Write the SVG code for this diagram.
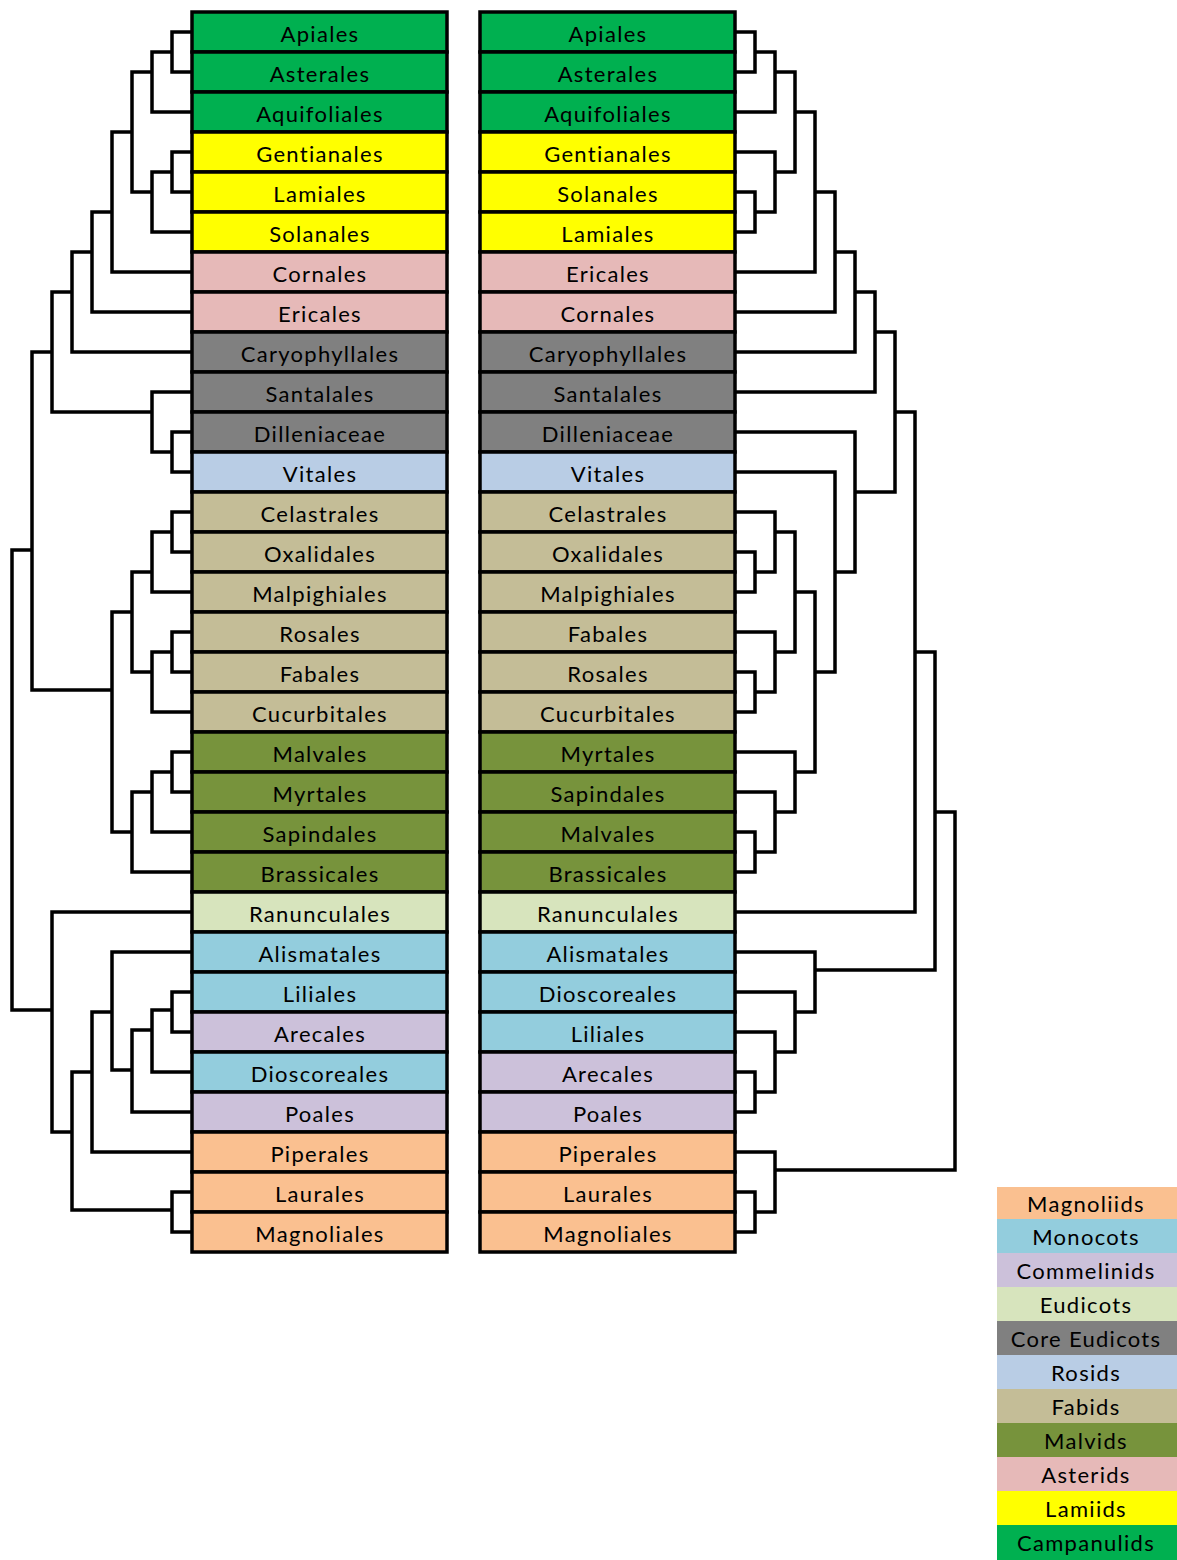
<svg xmlns="http://www.w3.org/2000/svg" width="1177" height="1560" viewBox="0 0 1177 1560">
<style>
.box{stroke:#000;stroke-width:3.5}
.t{font-family:Lato,"Liberation Sans",sans-serif;font-size:22px;letter-spacing:1.3px;text-anchor:middle;fill:#000}
.lg{font-family:Lato,"Liberation Sans",sans-serif;font-size:22px;letter-spacing:1.3px;text-anchor:middle;fill:#000}
.cam{fill:#00B050}.lam{fill:#FFFF00}.ast{fill:#E6B9B8}.core{fill:#808080}.ros{fill:#B9CDE5}
.fab{fill:#C4BD97}.mal{fill:#77933C}.eud{fill:#D7E4BD}.mon{fill:#93CDDD}.com{fill:#CCC1DA}.mag{fill:#FAC090}
#connectors path{fill:none;stroke:#000;stroke-width:3.5;stroke-linejoin:miter}
</style>
<g id="left-column">
<g id="L-Apiales"><rect class="box cam" x="192" y="12" width="255" height="40"/><text class="t" x="320" y="42">Apiales</text></g>
<g id="L-Asterales"><rect class="box cam" x="192" y="52" width="255" height="40"/><text class="t" x="320" y="82">Asterales</text></g>
<g id="L-Aquifoliales"><rect class="box cam" x="192" y="92" width="255" height="40"/><text class="t" x="320" y="122">Aquifoliales</text></g>
<g id="L-Gentianales"><rect class="box lam" x="192" y="132" width="255" height="40"/><text class="t" x="320" y="162">Gentianales</text></g>
<g id="L-Lamiales"><rect class="box lam" x="192" y="172" width="255" height="40"/><text class="t" x="320" y="202">Lamiales</text></g>
<g id="L-Solanales"><rect class="box lam" x="192" y="212" width="255" height="40"/><text class="t" x="320" y="242">Solanales</text></g>
<g id="L-Cornales"><rect class="box ast" x="192" y="252" width="255" height="40"/><text class="t" x="320" y="282">Cornales</text></g>
<g id="L-Ericales"><rect class="box ast" x="192" y="292" width="255" height="40"/><text class="t" x="320" y="322">Ericales</text></g>
<g id="L-Caryophyllales"><rect class="box core" x="192" y="332" width="255" height="40"/><text class="t" x="320" y="362">Caryophyllales</text></g>
<g id="L-Santalales"><rect class="box core" x="192" y="372" width="255" height="40"/><text class="t" x="320" y="402">Santalales</text></g>
<g id="L-Dilleniaceae"><rect class="box core" x="192" y="412" width="255" height="40"/><text class="t" x="320" y="442">Dilleniaceae</text></g>
<g id="L-Vitales"><rect class="box ros" x="192" y="452" width="255" height="40"/><text class="t" x="320" y="482">Vitales</text></g>
<g id="L-Celastrales"><rect class="box fab" x="192" y="492" width="255" height="40"/><text class="t" x="320" y="522">Celastrales</text></g>
<g id="L-Oxalidales"><rect class="box fab" x="192" y="532" width="255" height="40"/><text class="t" x="320" y="562">Oxalidales</text></g>
<g id="L-Malpighiales"><rect class="box fab" x="192" y="572" width="255" height="40"/><text class="t" x="320" y="602">Malpighiales</text></g>
<g id="L-Rosales"><rect class="box fab" x="192" y="612" width="255" height="40"/><text class="t" x="320" y="642">Rosales</text></g>
<g id="L-Fabales"><rect class="box fab" x="192" y="652" width="255" height="40"/><text class="t" x="320" y="682">Fabales</text></g>
<g id="L-Cucurbitales"><rect class="box fab" x="192" y="692" width="255" height="40"/><text class="t" x="320" y="722">Cucurbitales</text></g>
<g id="L-Malvales"><rect class="box mal" x="192" y="732" width="255" height="40"/><text class="t" x="320" y="762">Malvales</text></g>
<g id="L-Myrtales"><rect class="box mal" x="192" y="772" width="255" height="40"/><text class="t" x="320" y="802">Myrtales</text></g>
<g id="L-Sapindales"><rect class="box mal" x="192" y="812" width="255" height="40"/><text class="t" x="320" y="842">Sapindales</text></g>
<g id="L-Brassicales"><rect class="box mal" x="192" y="852" width="255" height="40"/><text class="t" x="320" y="882">Brassicales</text></g>
<g id="L-Ranunculales"><rect class="box eud" x="192" y="892" width="255" height="40"/><text class="t" x="320" y="922">Ranunculales</text></g>
<g id="L-Alismatales"><rect class="box mon" x="192" y="932" width="255" height="40"/><text class="t" x="320" y="962">Alismatales</text></g>
<g id="L-Liliales"><rect class="box mon" x="192" y="972" width="255" height="40"/><text class="t" x="320" y="1002">Liliales</text></g>
<g id="L-Arecales"><rect class="box com" x="192" y="1012" width="255" height="40"/><text class="t" x="320" y="1042">Arecales</text></g>
<g id="L-Dioscoreales"><rect class="box mon" x="192" y="1052" width="255" height="40"/><text class="t" x="320" y="1082">Dioscoreales</text></g>
<g id="L-Poales"><rect class="box com" x="192" y="1092" width="255" height="40"/><text class="t" x="320" y="1122">Poales</text></g>
<g id="L-Piperales"><rect class="box mag" x="192" y="1132" width="255" height="40"/><text class="t" x="320" y="1162">Piperales</text></g>
<g id="L-Laurales"><rect class="box mag" x="192" y="1172" width="255" height="40"/><text class="t" x="320" y="1202">Laurales</text></g>
<g id="L-Magnoliales"><rect class="box mag" x="192" y="1212" width="255" height="40"/><text class="t" x="320" y="1242">Magnoliales</text></g>
</g>
<g id="right-column">
<g id="R-Apiales"><rect class="box cam" x="480" y="12" width="255" height="40"/><text class="t" x="608" y="42">Apiales</text></g>
<g id="R-Asterales"><rect class="box cam" x="480" y="52" width="255" height="40"/><text class="t" x="608" y="82">Asterales</text></g>
<g id="R-Aquifoliales"><rect class="box cam" x="480" y="92" width="255" height="40"/><text class="t" x="608" y="122">Aquifoliales</text></g>
<g id="R-Gentianales"><rect class="box lam" x="480" y="132" width="255" height="40"/><text class="t" x="608" y="162">Gentianales</text></g>
<g id="R-Solanales"><rect class="box lam" x="480" y="172" width="255" height="40"/><text class="t" x="608" y="202">Solanales</text></g>
<g id="R-Lamiales"><rect class="box lam" x="480" y="212" width="255" height="40"/><text class="t" x="608" y="242">Lamiales</text></g>
<g id="R-Ericales"><rect class="box ast" x="480" y="252" width="255" height="40"/><text class="t" x="608" y="282">Ericales</text></g>
<g id="R-Cornales"><rect class="box ast" x="480" y="292" width="255" height="40"/><text class="t" x="608" y="322">Cornales</text></g>
<g id="R-Caryophyllales"><rect class="box core" x="480" y="332" width="255" height="40"/><text class="t" x="608" y="362">Caryophyllales</text></g>
<g id="R-Santalales"><rect class="box core" x="480" y="372" width="255" height="40"/><text class="t" x="608" y="402">Santalales</text></g>
<g id="R-Dilleniaceae"><rect class="box core" x="480" y="412" width="255" height="40"/><text class="t" x="608" y="442">Dilleniaceae</text></g>
<g id="R-Vitales"><rect class="box ros" x="480" y="452" width="255" height="40"/><text class="t" x="608" y="482">Vitales</text></g>
<g id="R-Celastrales"><rect class="box fab" x="480" y="492" width="255" height="40"/><text class="t" x="608" y="522">Celastrales</text></g>
<g id="R-Oxalidales"><rect class="box fab" x="480" y="532" width="255" height="40"/><text class="t" x="608" y="562">Oxalidales</text></g>
<g id="R-Malpighiales"><rect class="box fab" x="480" y="572" width="255" height="40"/><text class="t" x="608" y="602">Malpighiales</text></g>
<g id="R-Fabales"><rect class="box fab" x="480" y="612" width="255" height="40"/><text class="t" x="608" y="642">Fabales</text></g>
<g id="R-Rosales"><rect class="box fab" x="480" y="652" width="255" height="40"/><text class="t" x="608" y="682">Rosales</text></g>
<g id="R-Cucurbitales"><rect class="box fab" x="480" y="692" width="255" height="40"/><text class="t" x="608" y="722">Cucurbitales</text></g>
<g id="R-Myrtales"><rect class="box mal" x="480" y="732" width="255" height="40"/><text class="t" x="608" y="762">Myrtales</text></g>
<g id="R-Sapindales"><rect class="box mal" x="480" y="772" width="255" height="40"/><text class="t" x="608" y="802">Sapindales</text></g>
<g id="R-Malvales"><rect class="box mal" x="480" y="812" width="255" height="40"/><text class="t" x="608" y="842">Malvales</text></g>
<g id="R-Brassicales"><rect class="box mal" x="480" y="852" width="255" height="40"/><text class="t" x="608" y="882">Brassicales</text></g>
<g id="R-Ranunculales"><rect class="box eud" x="480" y="892" width="255" height="40"/><text class="t" x="608" y="922">Ranunculales</text></g>
<g id="R-Alismatales"><rect class="box mon" x="480" y="932" width="255" height="40"/><text class="t" x="608" y="962">Alismatales</text></g>
<g id="R-Dioscoreales"><rect class="box mon" x="480" y="972" width="255" height="40"/><text class="t" x="608" y="1002">Dioscoreales</text></g>
<g id="R-Liliales"><rect class="box mon" x="480" y="1012" width="255" height="40"/><text class="t" x="608" y="1042">Liliales</text></g>
<g id="R-Arecales"><rect class="box com" x="480" y="1052" width="255" height="40"/><text class="t" x="608" y="1082">Arecales</text></g>
<g id="R-Poales"><rect class="box com" x="480" y="1092" width="255" height="40"/><text class="t" x="608" y="1122">Poales</text></g>
<g id="R-Piperales"><rect class="box mag" x="480" y="1132" width="255" height="40"/><text class="t" x="608" y="1162">Piperales</text></g>
<g id="R-Laurales"><rect class="box mag" x="480" y="1172" width="255" height="40"/><text class="t" x="608" y="1202">Laurales</text></g>
<g id="R-Magnoliales"><rect class="box mag" x="480" y="1212" width="255" height="40"/><text class="t" x="608" y="1242">Magnoliales</text></g>
</g>
<g id="connectors">
<path d="M192 32H172V72H192"/>
<path d="M172 52H152V112H192"/>
<path d="M192 152H172V192H192"/>
<path d="M172 172H152V232H192"/>
<path d="M152 72H132V192H152"/>
<path d="M132 132H112V272H192"/>
<path d="M112 212H92V312H192"/>
<path d="M92 252H72V352H192"/>
<path d="M192 432H172V472H192"/>
<path d="M192 392H152V452H172"/>
<path d="M72 292H52V412H152"/>
<path d="M192 512H172V552H192"/>
<path d="M172 532H152V592H192"/>
<path d="M192 632H172V672H192"/>
<path d="M172 652H152V712H192"/>
<path d="M152 572H132V672H152"/>
<path d="M192 752H172V792H192"/>
<path d="M172 772H152V832H192"/>
<path d="M152 792H132V872H192"/>
<path d="M132 612H112V832H132"/>
<path d="M52 352H32V690H112"/>
<path d="M192 992H172V1032H192"/>
<path d="M172 1010H152V1072H192"/>
<path d="M152 1030H132V1112H192"/>
<path d="M192 952H112V1070H132"/>
<path d="M112 1012H92V1152H192"/>
<path d="M192 1192H172V1232H192"/>
<path d="M92 1072H72V1210H172"/>
<path d="M192 912H52V1132H72"/>
<path d="M32 550H12V1010H52"/>
<path d="M735 32H755V72H735"/>
<path d="M755 52H775V112H735"/>
<path d="M735 192H755V232H735"/>
<path d="M735 152H775V212H755"/>
<path d="M775 72H795V172H775"/>
<path d="M795 112H815V272H735"/>
<path d="M815 192H835V312H735"/>
<path d="M835 252H855V352H735"/>
<path d="M855 292H875V392H735"/>
<path d="M735 552H755V592H735"/>
<path d="M735 512H775V572H755"/>
<path d="M735 672H755V712H735"/>
<path d="M735 632H775V692H755"/>
<path d="M775 532H795V652H775"/>
<path d="M735 832H755V872H735"/>
<path d="M735 792H775V852H755"/>
<path d="M735 752H795V812H775"/>
<path d="M795 592H815V772H795"/>
<path d="M735 472H835V672H815"/>
<path d="M735 432H855V572H835"/>
<path d="M875 332H895V492H855"/>
<path d="M895 412H915V912H735"/>
<path d="M735 1072H755V1112H735"/>
<path d="M735 1032H775V1092H755"/>
<path d="M735 992H795V1052H775"/>
<path d="M735 952H815V1012H795"/>
<path d="M915 652H935V970H815"/>
<path d="M735 1192H755V1232H735"/>
<path d="M735 1152H775V1212H755"/>
<path d="M935 812H955V1170H775"/>
</g>
<g id="legend">
<g id="lg-Magnoliids"><rect class="mag" x="997" y="1187" width="180" height="32"/><text class="lg" x="1086" y="1212">Magnoliids</text></g>
<g id="lg-Monocots"><rect class="mon" x="997" y="1219" width="180" height="34"/><text class="lg" x="1086" y="1245">Monocots</text></g>
<g id="lg-Commelinids"><rect class="com" x="997" y="1253" width="180" height="34"/><text class="lg" x="1086" y="1279">Commelinids</text></g>
<g id="lg-Eudicots"><rect class="eud" x="997" y="1287" width="180" height="34"/><text class="lg" x="1086" y="1313">Eudicots</text></g>
<g id="lg-CoreEudicots"><rect class="core" x="997" y="1321" width="180" height="34"/><text class="lg" x="1086" y="1347">Core Eudicots</text></g>
<g id="lg-Rosids"><rect class="ros" x="997" y="1355" width="180" height="34"/><text class="lg" x="1086" y="1381">Rosids</text></g>
<g id="lg-Fabids"><rect class="fab" x="997" y="1389" width="180" height="34"/><text class="lg" x="1086" y="1415">Fabids</text></g>
<g id="lg-Malvids"><rect class="mal" x="997" y="1423" width="180" height="34"/><text class="lg" x="1086" y="1449">Malvids</text></g>
<g id="lg-Asterids"><rect class="ast" x="997" y="1457" width="180" height="34"/><text class="lg" x="1086" y="1483">Asterids</text></g>
<g id="lg-Lamiids"><rect class="lam" x="997" y="1491" width="180" height="34"/><text class="lg" x="1086" y="1517">Lamiids</text></g>
<g id="lg-Campanulids"><rect class="cam" x="997" y="1525" width="180" height="35"/><text class="lg" x="1086" y="1551">Campanulids</text></g>
</g>
</svg>
